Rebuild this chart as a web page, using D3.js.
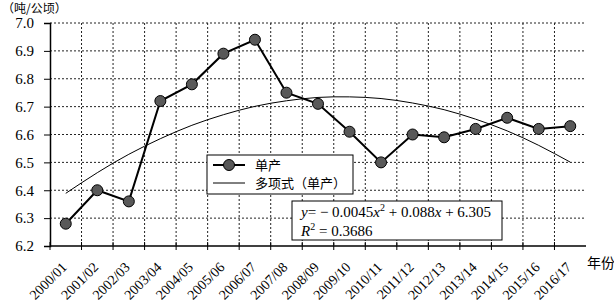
<!DOCTYPE html>
<html>
<head>
<meta charset="utf-8">
<script src="https://cdn.jsdelivr.net/npm/d3@7"></script>
<style>
  body { margin: 0; background: #fff; }
  svg { display: block; }
</style>
</head>
<body>
<div id="chart"></div>
<script>
// categories (crop years)
const years = ['2000/01', '2001/02', '2002/03', '2003/04', '2004/05', '2005/06', '2006/07', '2007/08', '2008/09',
  '2009/10', '2010/11', '2011/12', '2012/13', '2013/14', '2014/15', '2015/16', '2016/17'];
// yield, t/ha
const yieldVals = [6.28, 6.40, 6.36, 6.72, 6.78, 6.89, 6.94, 6.75, 6.71, 6.61, 6.50, 6.60, 6.59, 6.62, 6.66, 6.62, 6.63];
// polynomial trend line
const trendVals = [6.389, 6.463, 6.529, 6.585, 6.633, 6.671, 6.701, 6.721, 6.733, 6.735, 6.729, 6.713, 6.689,
  6.655, 6.613, 6.561, 6.501];
const yTicks = [6.2, 6.3, 6.4, 6.5, 6.6, 6.7, 6.8, 6.9, 7.0];

const W = 614, H = 303;
const margin = {top: 23, right: 28, bottom: 57, left: 50};
const width = W - margin.left - margin.right;
const height = H - margin.top - margin.bottom;
const serif = '"Liberation Serif", "DejaVu Serif", serif';
const cjk = '"Noto Sans CJK SC", sans-serif';

const svg = d3.select('#chart').append('svg')
  .attr('width', W).attr('height', H);
const g = svg.append('g')
  .attr('transform', 'translate(' + margin.left + ',' + margin.top + ')');

const x = d3.scaleBand().domain(years).range([0, width]);
const y = d3.scaleLinear().domain([6.2, 7.0]).range([height, 0]);
const cx = d => x(d) + x.bandwidth() / 2;

// grid
g.append('g').selectAll('line')
  .data(yTicks.slice(1))
  .enter().append('line')
    .attr('x1', 0).attr('x2', width)
    .attr('y1', d => y(d)).attr('y2', d => y(d))
    .attr('stroke', '#222').attr('stroke-dasharray', '2,2');
g.append('g').selectAll('line')
  .data(years.slice(1))
  .enter().append('line')
    .attr('x1', d => x(d)).attr('x2', d => x(d))
    .attr('y1', 0).attr('y2', height)
    .attr('stroke', '#222').attr('stroke-dasharray', '2,2');

// y axis
const yAxis = g.append('g')
  .call(d3.axisLeft(y).tickValues(yTicks).tickFormat(d3.format('.1f')).tickSize(6).tickPadding(10));
yAxis.select('.domain').attr('stroke', '#000').attr('stroke-width', 1.5);
yAxis.selectAll('text').attr('font-family', serif).attr('font-size', 15).attr('fill', '#000');

// x axis: ticks at band edges, crossing the line
const xAxis = g.append('g').attr('transform', 'translate(0,' + height + ')');
xAxis.append('line')
  .attr('x1', 0).attr('x2', width).attr('stroke', '#000').attr('stroke-width', 1.5);
xAxis.selectAll('.edge')
  .data(years)
  .enter().append('line')
    .attr('x1', d => x(d)).attr('x2', d => x(d))
    .attr('y1', -4).attr('y2', 4)
    .attr('stroke', '#000');
xAxis.selectAll('.lbl')
  .data(years)
  .enter().append('text')
    .attr('transform', d => 'translate(' + (cx(d) + 2) + ',' + 22 + ') rotate(-45)')
    .attr('text-anchor', 'end')
    .attr('font-family', serif).attr('font-size', 14)
    .text(d => d);

// trend curve
g.append('path')
  .datum(trendVals)
  .attr('fill', 'none').attr('stroke', '#000').attr('stroke-width', 1)
  .attr('d', d3.line().x((d, i) => cx(years[i])).y(d => y(d)).curve(d3.curveNatural));

// yield line + markers
g.append('path')
  .datum(yieldVals)
  .attr('fill', 'none').attr('stroke', '#000').attr('stroke-width', 2)
  .attr('d', d3.line().x((d, i) => cx(years[i])).y(d => y(d)));
g.append('g').selectAll('circle')
  .data(yieldVals)
  .enter().append('circle')
    .attr('cx', (d, i) => cx(years[i]))
    .attr('cy', d => y(d))
    .attr('r', 5.5)
    .attr('fill', '#595959').attr('stroke', '#000').attr('stroke-width', 1);

// legend
const leg = svg.append('g').attr('transform', 'translate(207,155)');
leg.append('rect').attr('width', 146).attr('height', 39)
  .attr('fill', '#fff').attr('stroke', '#000');
leg.append('line').attr('x1', 6).attr('x2', 38).attr('y1', 10).attr('y2', 10)
  .attr('stroke', '#000').attr('stroke-width', 2);
leg.append('circle').attr('cx', 22).attr('cy', 10).attr('r', 5.5)
  .attr('fill', '#595959').attr('stroke', '#000');
leg.append('line').attr('x1', 6).attr('x2', 38).attr('y1', 28).attr('y2', 28)
  .attr('stroke', '#000').attr('stroke-width', 1);
leg.append('text').attr('x', 48).attr('y', 15)
  .attr('font-family', cjk).attr('font-size', 13).text('单产');
leg.append('text').attr('x', 48).attr('y', 33)
  .attr('font-family', cjk).attr('font-size', 13).text('多项式（单产）');

// equation box
const eq = svg.append('g').attr('transform', 'translate(292,201)');
eq.append('rect').attr('width', 210).attr('height', 39)
  .attr('fill', '#fff').attr('stroke', '#000');
const t1 = eq.append('text').attr('x', 9).attr('y', 16)
  .attr('font-family', serif).attr('font-size', 15);
t1.append('tspan').attr('font-style', 'italic').text('y');
t1.append('tspan').text('= − 0.0045');
t1.append('tspan').attr('font-style', 'italic').text('x');
t1.append('tspan').attr('font-size', 10).attr('dy', -6).text('2');
t1.append('tspan').attr('dy', 6).text(' + 0.088');
t1.append('tspan').attr('font-style', 'italic').text('x');
t1.append('tspan').text(' + 6.305');
const t2 = eq.append('text').attr('x', 9).attr('y', 35)
  .attr('font-family', serif).attr('font-size', 15);
t2.append('tspan').attr('font-style', 'italic').text('R');
t2.append('tspan').attr('font-size', 10).attr('dy', -6).text('2');
t2.append('tspan').attr('dy', 6).text(' = 0.3686');

// axis titles
svg.append('text').attr('x', 2).attr('y', 13)
  .attr('font-family', cjk).attr('font-size', 12).text('（吨/公顷）');
svg.append('text').attr('x', 587).attr('y', 268)
  .attr('font-family', cjk).attr('font-size', 14).text('年份');
</script>
</body>
</html>
